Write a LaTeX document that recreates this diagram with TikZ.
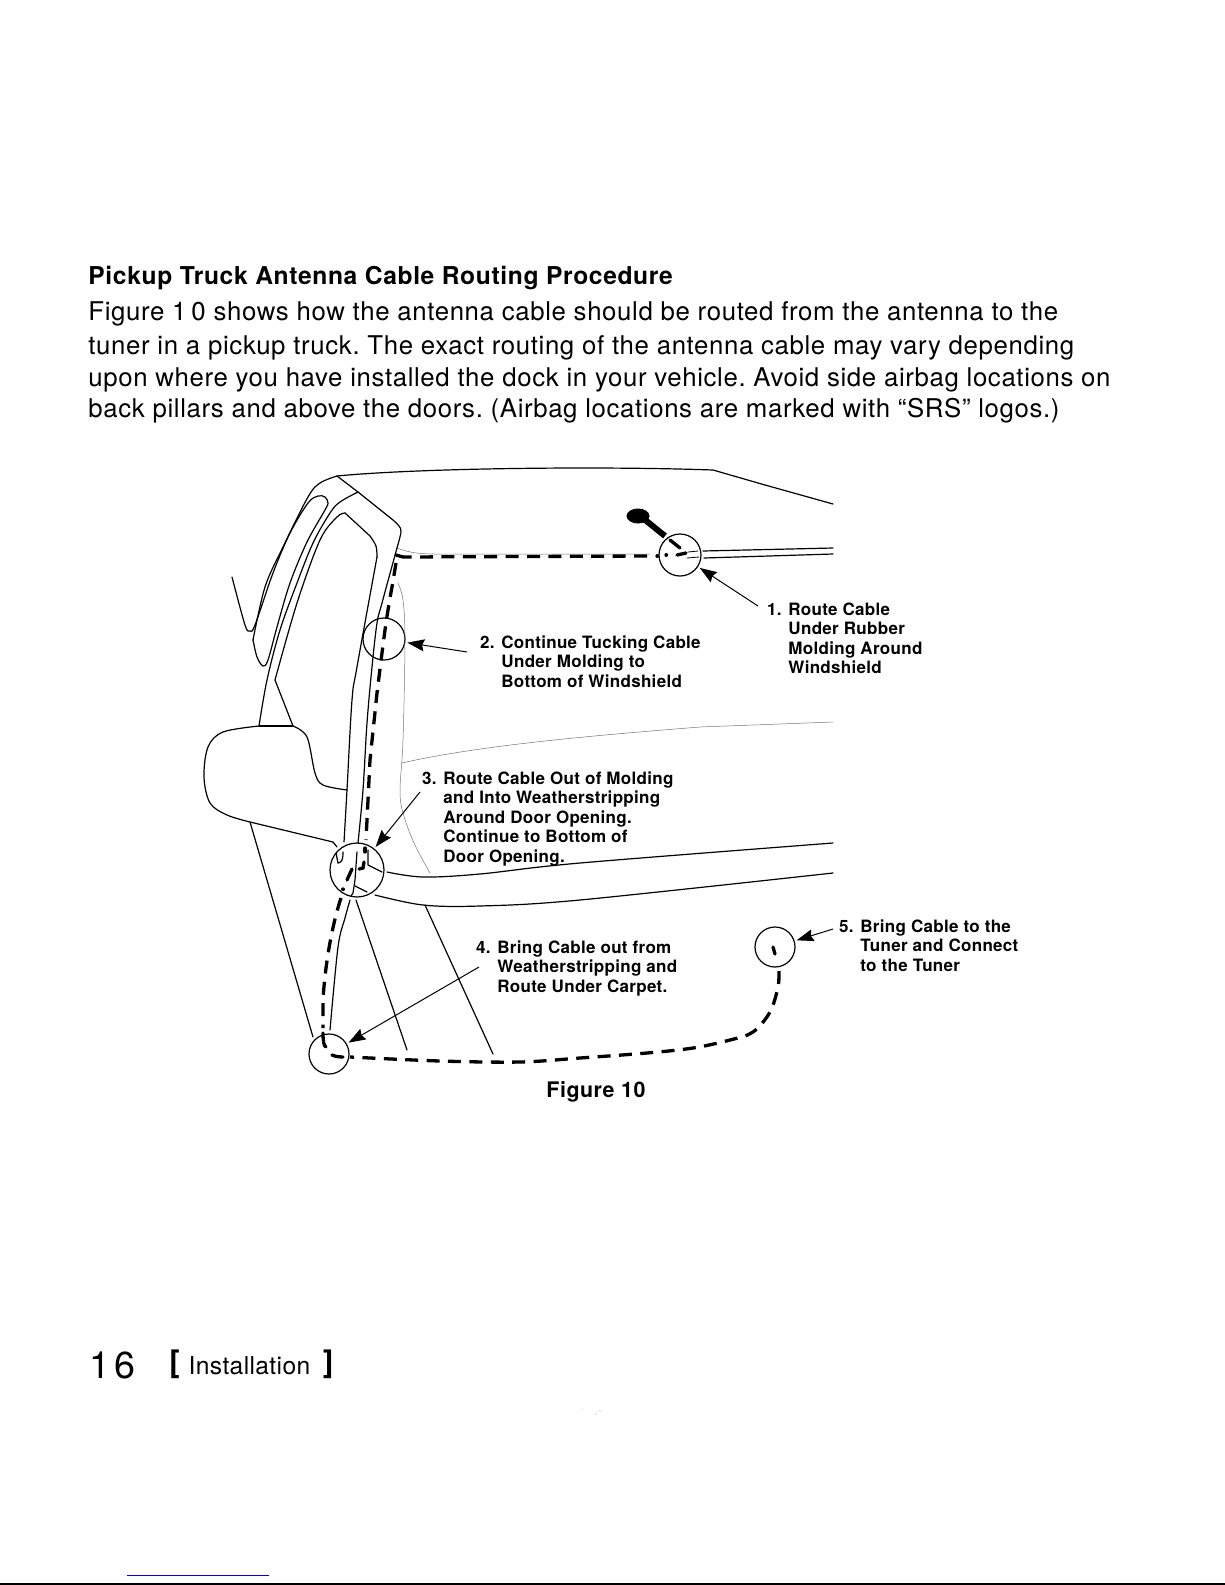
\documentclass[tikz,border=0pt]{standalone}
\usepackage{fontspec}
\setmainfont{TeX Gyre Heros}
\usetikzlibrary{arrows.meta}
\tikzset{
  ln/.style={line width=0.6pt,line join=round,line cap=round},
  hair/.style={line width=0.25pt,black!55},
  ring/.style={circle,draw,line width=0.6pt,inner sep=0pt,minimum size=#1},
  cable/.style={line width=1.65pt,dash pattern=on 6.5pt off 4.2pt},
  hook/.style={line width=1.65pt,line cap=round},
  lead/.style={line width=0.5pt,shorten >=1pt,-{Stealth[length=8.5pt,width=6pt,inset=1pt]}},
  lab/.style={font=\bfseries\fontsize{8.5}{9.75}\selectfont\addfontfeature{LetterSpace=1.8},align=left,anchor=north west,inner sep=0pt},
  body/.style={font=\frenchspacing\fontsize{12.9}{16}\selectfont\addfontfeature{LetterSpace=2.4},anchor=base west,inner sep=0pt},
  sm/.style={smooth,tension=0.55},
}
\begin{document}
\begin{tikzpicture}[x=0.5pt,y=-0.5pt]
\useasboundingbox (0,0) rectangle (1225,1585);
% text
\node[body,font=\bfseries\fontsize{12.3}{14}\selectfont\addfontfeature{LetterSpace=2.6}] (title) at (88,284) {Pickup Truck Antenna Cable Routing Procedure};
\node[body] (l1) at (88,320.5) {Figure 1\kern2.5pt 0 shows how the antenna cable should be routed from the antenna to the};
\node[body] (l2) at (88,354) {tuner in a pickup truck. The exact routing of the antenna cable may vary depending};
\node[body] (l3) at (88,386) {upon where you have installed the dock in your vehicle. Avoid side airbag locations on};
\node[body] (l4) at (88,417) {back pillars and above the doors. (Airbag locations are marked with “SRS” logos.)};
\node[lab] (t1) at (788,602) {\llap{1. }Route Cable\\Under Rubber\\Molding Around\\Windshield};
\node[lab] (t2) at (501,635) {\llap{2. }Continue Tucking Cable\\Under Molding to\\Bottom of Windshield};
\node[lab] (t3) at (443,771) {\llap{3. }Route Cable Out of Molding\\and Into Weatherstripping\\Around Door Opening.\\Continue to Bottom of\\Door Opening.};
\node[lab] (t4) at (497,940) {\llap{4. }Bring Cable out from\\Weatherstripping and\\Route Under Carpet.};
\node[lab] (t5) at (860,919) {\llap{5. }Bring Cable to the\\Tuner and Connect\\to the Tuner};
\node[body,font=\bfseries\fontsize{10.7}{12}\selectfont\addfontfeature{LetterSpace=2.5}] (fig) at (546,1097) {Figure 10};
\node[body,font=\fontsize{18.8}{20}\selectfont\addfontfeature{LetterSpace=10}] (pg) at (89,1378) {16};
\node[body,font=\fontsize{12.3}{14}\selectfont\addfontfeature{LetterSpace=1.5}] (sec) at (169,1374) {\raisebox{1pt}{\fontsize{15.5}{16}\bfseries\selectfont[}\hspace{4.5pt}Installation\hspace{6.5pt}\raisebox{1pt}{\fontsize{15.5}{16}\bfseries\selectfont]}};
% page rules
\draw[blue!90!black,line width=0.5pt] (127,1575) -- (269,1575);
\draw[black,line width=0.6pt] (0,1584) -- (1225,1584);
\fill[black!40] (582,1408) circle (0.5) (596,1414) circle (0.6) (600,1411) circle (0.6);
% circles
\node[ring=21pt] (c1) at (680,555) {};
\node[ring=21pt] (c2) at (384,639) {};
\node[ring=27pt] (c3) at (357,870) {};
\node[ring=20pt] (c4) at (329,1054) {};
\node[ring=20pt] (c5) at (775,947) {};
% roof
\draw[ln] (337,476) .. controls (420,468) and (600,466) .. (713,470) -- (765,485) -- (833,504);
% window strip and V
\draw[ln] plot[sm] coordinates {(337,476) (320,483) (308,497) (283,547) (265,587) (253,640)};
\draw[ln] plot[sm] coordinates {(253,640) (257,657) (263,666) (268,660) (277,627) (290,583) (307,542) (325,510) (328,503) (325,497) (318,496) (308,503) (290,533) (273,573) (255,625) (250,631) (245,625) (232,577)};
% second line, top of door frame
\draw[ln] plot[sm] coordinates {(259,726) (267,680) (280,630) (297,583) (313,543) (330,513) (340,502) (358,492)};
\draw[ln] (337,476) -- (358,492) -- (393,520);
\draw[ln] plot[sm] coordinates {(393,520) (399,526) (401,532) (397,548)};
\draw[ln] plot[sm] coordinates {(397,548) (382,603) (377,623) (372,667) (367,723) (363,790) (358,843)};
% inner window
\draw[ln] (293,726) -- (275,680);
\draw[ln] plot[sm] coordinates {(275,680) (297,603) (320,540) (337,517) (345,513)};
\draw[ln] (345,513) -- (370,536);
\draw[ln] plot[sm] coordinates {(370,536) (376,546) (377,557)};
\draw[ln] plot[sm] coordinates {(377,557) (357,667) (352,700) (347,790) (344,842)};
% mirror
\draw[ln] plot[sm] coordinates {(259,726) (223,732) (208,747) (204,777) (210,803) (227,815) (250,822)};
\draw[ln] (250,822) -- (333,842);
\draw[ln] (259,726) -- (293,726);
\draw[ln] plot[sm] coordinates {(293,726) (307,737) (315,773) (323,785) (347,790)};
% lower body
\draw[ln] (250,822) -- (313,1037);
\draw[ln] plot[sm] coordinates {(350,900) (345,918) (338,947) (330,1030)};
\draw[ln] (356,900) -- (407,1050);
\draw[ln] (425,905) -- (493,1054);
\draw[ln] plot[sm] coordinates {(387,872) (423,877) (480,874) (580,863) (833,843)};
\draw[ln] plot[sm] coordinates {(375,895) (423,905) (480,906) (580,900) (833,873)};
% parts inside c3
\draw[ln] (333,842) -- (337,847);
\draw[ln] (343,852) .. controls (343,860) and (342,862) .. (338,863);
\draw[ln] (336,853) -- (338,863);
\draw[ln] (357,852) -- (355,880) -- (353,893) -- (351,896);
\draw[ln] (368,850) -- (368,865) -- (382,872);
\draw[ln] (355,886) -- (367,892);
% hairlines
\draw[hair] (397,548) .. controls (410,553) and (420,554) .. (436,554) -- (650,554);
\draw[hair] plot[sm] coordinates {(398,583) (403,600) (405,640) (403,740) (400,790) (403,813) (414,843) (430,873)};
\draw[hair] (402,763) .. controls (480,745) and (600,735) .. (700,727) -- (833,722);
% antenna
\fill (638,516) ellipse [x radius=11.5,y radius=7.5];
\draw[line width=3pt] (644,519) -- (665,536);
\draw[hook] (670,540) -- (680,548);
\draw[ln] (703,551) -- (833,548);
\draw[ln] (704,558) -- (833,554);
\draw[ln,line width=0.4pt] (688,552) -- (698,551);
\draw[ln,line width=0.4pt] (687,558) -- (699,557);
% cable
\coordinate (a) at (647,556);
\draw[cable] (a) -- (403,557);
\draw[hook] (403,557) -- (396,555);
\draw[cable] (396,563) -- (392,587) .. controls (389,603) and (387,616) .. (385,630) -- (382,653) -- (377,693) -- (370,760) -- (368,800) -- (366,840);
\draw[hook] (365,848) -- (365,852);
\draw[hook] (364,862) -- (363,868) -- (359,869);
\draw[hook] (352,869) -- (347,880);
\draw[hook] (343,889) -- (343,889.5);
\draw[cable] (341,898) .. controls (332,925) and (325,965) .. (323,1000) -- (323,1028);
\draw[hook] (323,1033) .. controls (323,1042) and (324,1046) .. (326,1047);
\draw[hook] (332,1055) .. controls (337,1057) and (340,1057) .. (343,1057);
\draw[cable] plot[sm] coordinates {(779,971) (778,987) (770,1012) (753,1032) (730,1040) (693,1048) (647,1053) (580,1058) (520,1062) (440,1061) (350,1057)};
\draw[hook] (773,947) -- (775,954);
\draw[hook] (657,556) -- (657.5,556);
\draw[hook] (666,555) -- (666.5,555);
\draw[hook] (677,555) -- (686,553);
% leaders
\coordinate (e1) at (758,606);
\coordinate (e2) at (467,652);
\coordinate (e3) at (420,792);
\coordinate (e4) at (479,967);
\coordinate (e5) at (833,929);
\draw[lead] (e1) -- (c1);
\draw[lead] (e2) -- (c2);
\draw[lead] (e3) -- (c3);
\draw[lead] (e4) -- (c4);
\draw[lead] (e5) -- (c5);
\end{tikzpicture}
\end{document}
